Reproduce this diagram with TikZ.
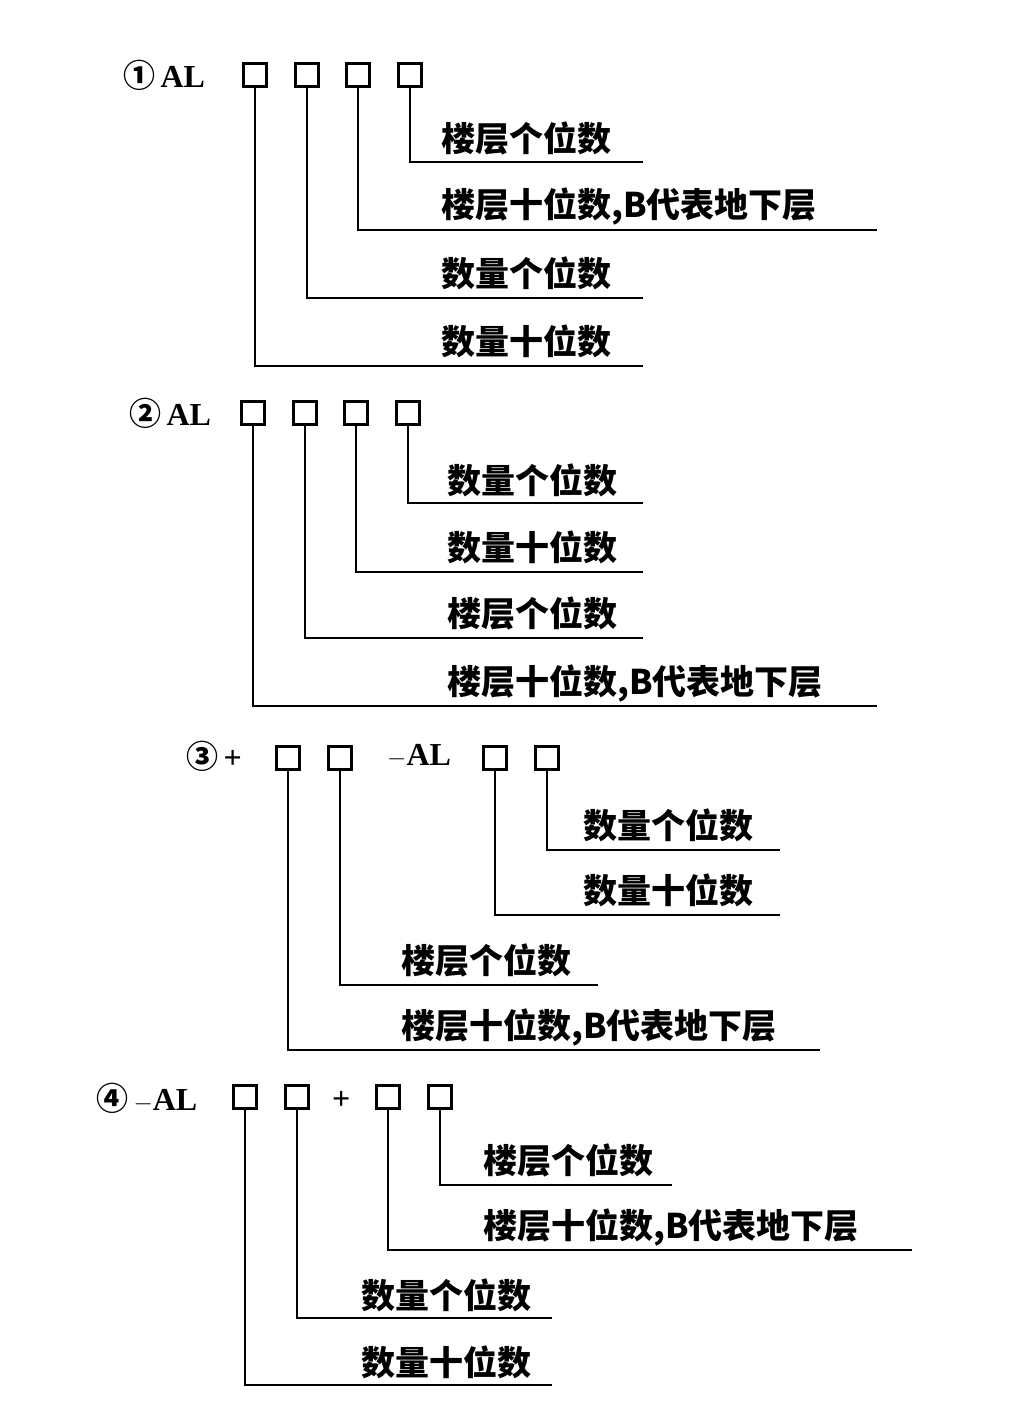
\documentclass[tikz,border=0pt]{standalone}
\usepackage{fontspec}
\setmainfont{Liberation Serif}
\newfontfamily\cjk{Noto Sans CJK SC}
\begin{document}
\begin{tikzpicture}[x=1pt,y=-1pt,line width=2.4pt,
  bx/.style={draw,minimum size=23pt,inner sep=0,line width=2.2pt},
  lab/.style={anchor=west,inner sep=0,font=\cjk\bfseries\fontsize{34}{34}\selectfont},
  hd/.style={anchor=west,inner sep=0,font=\bfseries\fontsize{32}{32}\selectfont},
  ln/.style={line width=2.4pt}]
\useasboundingbox (0,0) rectangle (1020,1420);
% ---- 1
\node[hd] (h1) at (122,75) {{\cjk ①}\,AL};
\foreach \n/\x in {a/255,b/307,c/358,d/410}{\node[bx] (1\n) at (\x,75) {};}
\coordinate (e1d) at (643,162); \coordinate (e1c) at (877,230);
\coordinate (e1b) at (643,298); \coordinate (e1a) at (643,366);
\draw[ln] (1d.south) |- (e1d); \draw[ln] (1c.south) |- (e1c);
\draw[ln] (1b.south) |- (e1b); \draw[ln] (1a.south) |- (e1a);
\node[lab] (t1d) at (440,138) {楼层个位数};
\node[lab] (t1c) at (440,207) {楼层十位数,B代表地下层};
\node[lab] (t1b) at (440,273) {数量个位数};
\node[lab] (t1a) at (440,341) {数量十位数};
% ---- 2
\node[hd] (h2) at (128,413) {{\cjk ②}\,AL};
\foreach \n/\x in {a/253,b/305,c/356,d/408}{\node[bx] (2\n) at (\x,413) {};}
\coordinate (e2d) at (643,503); \coordinate (e2c) at (643,572);
\coordinate (e2b) at (643,638); \coordinate (e2a) at (877,706);
\draw[ln] (2d.south) |- (e2d); \draw[ln] (2c.south) |- (e2c);
\draw[ln] (2b.south) |- (e2b); \draw[ln] (2a.south) |- (e2a);
\node[lab] (t2d) at (446,480) {数量个位数};
\node[lab] (t2c) at (446,547) {数量十位数};
\node[lab] (t2b) at (446,613) {楼层个位数};
\node[lab] (t2a) at (446,683) {楼层十位数,B代表地下层};
% ---- 3
\node[hd] (h3) at (185,756) {{\cjk ③}\,+};
\node[hd] (h3b) at (386,756) {$-$AL};
\foreach \n/\x in {a/288,b/340,c/495,d/547}{\node[bx] (3\n) at (\x,758) {};}
\coordinate (e3d) at (780,850); \coordinate (e3c) at (780,915);
\coordinate (e3b) at (598,985); \coordinate (e3a) at (820,1050);
\draw[ln] (3d.south) |- (e3d); \draw[ln] (3c.south) |- (e3c);
\draw[ln] (3b.south) |- (e3b); \draw[ln] (3a.south) |- (e3a);
\node[lab] (t3d) at (582,825) {数量个位数};
\node[lab] (t3c) at (582,890) {数量十位数};
\node[lab] (t3b) at (400,960) {楼层个位数};
\node[lab] (t3a) at (400,1027) {楼层十位数,B代表地下层};
% ---- 4
\node[hd] (h4) at (95,1098) {{\cjk ④}\,$-$AL};
\node[hd] (h4b) at (331,1100) {+};
\foreach \n/\x in {a/245,b/297,c/388,d/440}{\node[bx] (4\n) at (\x,1097) {};}
\coordinate (e4d) at (672,1185); \coordinate (e4c) at (912,1250);
\coordinate (e4b) at (552,1318); \coordinate (e4a) at (552,1385);
\draw[ln] (4d.south) |- (e4d); \draw[ln] (4c.south) |- (e4c);
\draw[ln] (4b.south) |- (e4b); \draw[ln] (4a.south) |- (e4a);
\node[lab] (t4d) at (482,1160) {楼层个位数};
\node[lab] (t4c) at (482,1227) {楼层十位数,B代表地下层};
\node[lab] (t4b) at (360,1295) {数量个位数};
\node[lab] (t4a) at (360,1362) {数量十位数};
\end{tikzpicture}
\end{document}
